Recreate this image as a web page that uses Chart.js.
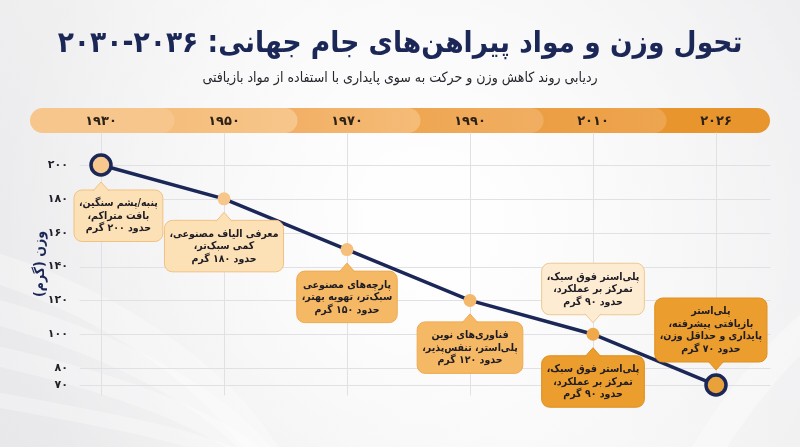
<!DOCTYPE html>
<html lang="fa">
<head>
<meta charset="utf-8">
<title>تحول وزن پیراهن‌های جام جهانی</title>
<script src="https://cdn.jsdelivr.net/npm/chart.js@4.4.1/dist/chart.umd.min.js"></script>
<style>
  html, body { margin: 0; padding: 0; background: #f2f2f3; }
  canvas { display: block; direction: rtl; }
</style>
</head>
<body>
<canvas id="weightChart" width="800" height="447"></canvas>
<script>
// chart data
const years = ['1930', '1950', '1970', '1990', '2010', '2026'];
const weights = [200, 180, 150, 120, 100, 70];
const yTicks = [200, 180, 160, 140, 120, 100, 80, 70];
const notes = [
    'پنبه/پشم سنگین،\nبافت متراکم،\nحدود ۲۰۰ گرم',
    'معرفی الیاف مصنوعی،\nکمی سبک‌تر،\nحدود ۱۸۰ گرم',
    'پارچه‌های مصنوعی\nسبک‌تر، تهویه بهتر،\nحدود ۱۵۰ گرم',
    'فناوری‌های نوین\nپلی‌استر، تنفس‌پذیر،\nحدود ۱۲۰ گرم',
    'پلی‌استر فوق سبک،\nتمرکز بر عملکرد،\nحدود ۹۰ گرم',
    'پلی‌استر فوق سبک،\nتمرکز بر عملکرد،\nحدود ۹۰ گرم',
    'پلی‌استر\nبازیافتی پیشرفته،\nپایداری و حداقل وزن،\nحدود ۷۰ گرم'
];
const noteAt = [0, 1, 2, 3, 4, 4, 5];

const TITLE = 'تحول وزن و مواد پیراهن‌های جام جهانی: ۲۰۳۶-۲۰۳۰';
const SUBTITLE = 'ردیابی روند کاهش وزن و حرکت به سوی پایداری با استفاده از مواد بازیافتی';
const Y_TITLE = 'وزن (گرم)';

// styles
const FONT = "'DejaVu Sans', sans-serif";
const FONT_C = "'DejaVu Sans Condensed', 'DejaVu Sans', sans-serif";
const NAVY = '#1b2857';
const bandColors = ['#f7c68c', '#f5bc78', '#f1ae62', '#eea550', '#eb9d41', '#e8952e'];
const pointFills = ['#f8c98e', '#f7c68a', '#f6bf7c', '#f4b86c', '#f0a94a', '#e9a23a'];
const boxLook = {
    light:   { fill: '#fde1b6', stroke: '#f1c183' },
    pale:    { fill: '#fdebd2', stroke: '#efc890' },
    medium:  { fill: '#f5b864', stroke: '#eeaa50' },
    dark:    { fill: '#eb9d2d', stroke: '#e0901f' }
};
const noteStyle = [
    { side: 'below', dx: 17, w: 86, look: 'light' },
    { side: 'below', dx: 0, w: 98, look: 'light' },
    { side: 'below', dx: 0, w: 99, look: 'medium' },
    { side: 'below', dx: 0, w: 96, look: 'medium' },
    { side: 'above', dx: 0, w: 98, look: 'pale' },
    { side: 'below', dx: 0, w: 98, look: 'dark' },
    { side: 'above', dx: 0, w: 98, look: 'dark' }
];

function faDigits(v) {
    return String(v).replace(/\d/g, d => '۰۱۲۳۴۵۶۷۸۹'[d]);
}

function roundRect(ctx, x, y, w, h, r) {
    ctx.beginPath();
    ctx.moveTo(x + r, y);
    ctx.lineTo(x + w - r, y);
    ctx.arcTo(x + w, y, x + w, y + r, r);
    ctx.lineTo(x + w, y + h - r);
    ctx.arcTo(x + w, y + h, x + w - r, y + h, r);
    ctx.lineTo(x + r, y + h);
    ctx.arcTo(x, y + h, x, y + h - r, r);
    ctx.lineTo(x, y + r);
    ctx.arcTo(x, y, x + r, y, r);
    ctx.closePath();
}

// background, year band and grid
const backdrop = {
    id: 'backdrop',
    beforeDraw(chart) {
        const ctx = chart.ctx;
        const W = chart.width, H = chart.height;
        ctx.save();

        // soft fabric-like background
        const bg = ctx.createLinearGradient(0, H, W, 0);
        bg.addColorStop(0, '#e8e8ea');
        bg.addColorStop(0.5, '#f5f5f6');
        bg.addColorStop(1, '#eeeef0');
        ctx.fillStyle = bg;
        ctx.fillRect(0, 0, W, H);
        const glow = ctx.createRadialGradient(430, 220, 40, 430, 220, 430);
        glow.addColorStop(0, 'rgba(255,255,255,0.95)');
        glow.addColorStop(1, 'rgba(255,255,255,0)');
        ctx.fillStyle = glow;
        ctx.fillRect(0, 0, W, H);
        ctx.lineCap = 'round';
        for (let k = 0; k < 4; k++) {
            ctx.strokeStyle = 'rgba(255,255,255,0.3)';
            ctx.lineWidth = 30 - k * 5;
            ctx.beginPath();
            ctx.moveTo(-30, 260 + k * 45);
            ctx.bezierCurveTo(110, 300 + k * 40, 230, 380 + k * 20, 280, 480);
            ctx.stroke();
        }
        ctx.strokeStyle = 'rgba(255,255,255,0.35)';
        ctx.lineWidth = 30;
        ctx.beginPath();
        ctx.moveTo(690, 480);
        ctx.bezierCurveTo(740, 390, 790, 340, 840, 300);
        ctx.stroke();

        // year band behind x tick labels
        const xs = chart.scales.x;
        const n = years.length;
        const step = xs.getPixelForValue(1) - xs.getPixelForValue(0);
        const bandTop = 108, bandH = 25;
        for (let i = n - 1; i >= 0; i--) {
            const cx = xs.getPixelForValue(i);
            const l = i === 0 ? 30 : cx - step / 2 - 12;
            const r = i === n - 1 ? 770 : cx + step / 2 + 12;
            const g = ctx.createLinearGradient(l, 0, r, 0);
            g.addColorStop(0, bandColors[i]);
            g.addColorStop(1, i === n - 1 ? bandColors[i] : bandColors[Math.max(i - 1, 0)]);
            ctx.fillStyle = g;
            roundRect(ctx, l, bandTop, r - l, bandH, bandH / 2);
            ctx.fill();
        }

        // grid lines
        const ys = chart.scales.y;
        const area = chart.chartArea;
        ctx.strokeStyle = '#e1e1e5';
        ctx.lineWidth = 1;
        yTicks.forEach(v => {
            const y = Math.round(ys.getPixelForValue(v)) + 0.5;
            ctx.beginPath();
            ctx.moveTo(80, y);
            ctx.lineTo(770, y);
            ctx.stroke();
        });
        years.forEach((_, i) => {
            const x = Math.round(xs.getPixelForValue(i)) + 0.5;
            ctx.beginPath();
            ctx.moveTo(x, bandTop + bandH);
            ctx.lineTo(x, area.bottom);
            ctx.stroke();
        });
        ctx.restore();
    }
};

// callout boxes next to the points
const callouts = {
    id: 'callouts',
    afterDatasetsDraw(chart) {
        const ctx = chart.ctx;
        const meta = chart.getDatasetMeta(0);
        const lineH = 12.5, pad = 7, tipH = 8, tipW = 8;
        ctx.save();
        ctx.direction = 'rtl';
        ctx.textAlign = 'center';
        ctx.textBaseline = 'middle';
        notes.forEach((txt, k) => {
            const st = noteStyle[k];
            const look = boxLook[st.look];
            const pt = meta.data[noteAt[k]];
            const r = pt.options.radius;
            const lines = txt.split('\n');
            ctx.font = 'bold 10.5px ' + FONT_C;
            const widest = Math.max(...lines.map(s => ctx.measureText(s).width));
            const h = lines.length * lineH + pad * 2;
            const w = Math.max(st.w, widest + 10);
            let cx = pt.x + st.dx;
            cx = Math.max(cx, 74 + w / 2);
            cx = Math.min(cx, 767 - w / 2);
            let top, baseY, apexY;
            if (st.side === 'below') {
                top = pt.y + r + 15;
                baseY = top + 1;
                apexY = top - tipH;
            } else {
                top = pt.y - r - 13 - h;
                baseY = top + h - 1;
                apexY = top + h + tipH;
            }
            ctx.fillStyle = look.fill;
            ctx.strokeStyle = look.stroke;
            ctx.lineWidth = 1;
            roundRect(ctx, cx - w / 2, top, w, h, 8);
            ctx.fill();
            ctx.stroke();
            // pointer
            ctx.beginPath();
            ctx.moveTo(pt.x - tipW, baseY);
            ctx.lineTo(pt.x, apexY);
            ctx.lineTo(pt.x + tipW, baseY);
            ctx.closePath();
            ctx.fill();
            ctx.beginPath();
            ctx.moveTo(pt.x - tipW, baseY);
            ctx.lineTo(pt.x, apexY);
            ctx.lineTo(pt.x + tipW, baseY);
            ctx.stroke();
            ctx.fillRect(pt.x - tipW + 1, st.side === 'below' ? top + 0.5 : top + h - 2.5, tipW * 2 - 2, 2);

            ctx.fillStyle = '#1d1b24';
            lines.forEach((s, j) => {
                ctx.fillText(s, cx, top + pad + lineH * (j + 0.5) + 0.5);
            });
        });
        ctx.restore();
    }
};

const ctx = document.getElementById('weightChart').getContext('2d');
new Chart(ctx, {
    type: 'line',
    data: {
        labels: years,
        datasets: [{
            data: weights,
            borderColor: NAVY,
            borderWidth: 3.5,
            tension: 0,
            clip: false,
            pointRadius: [10, 6.5, 6.5, 6.5, 6.5, 10],
            pointBorderWidth: [3.5, 0, 0, 0, 0, 3.5],
            pointBorderColor: NAVY,
            pointBackgroundColor: pointFills
        }]
    },
    options: {
        responsive: false,
        animation: false,
        layout: {
            padding: { left: 0, right: 0, top: 0, bottom: 52 }
        },
        plugins: {
            legend: { display: false },
            tooltip: { enabled: false },
            title: {
                display: true,
                text: TITLE,
                color: NAVY,
                font: { family: FONT_C, size: 29.5, weight: 'bold' },
                padding: { top: 27, bottom: 4 }
            },
            subtitle: {
                display: true,
                text: SUBTITLE,
                color: '#26262e',
                font: { family: FONT_C, size: 14 },
                padding: { top: 4, bottom: 6 }
            }
        },
        scales: {
            x: {
                position: 'top',
                offset: false,
                grid: { display: false, drawTicks: false },
                border: { display: false },
                ticks: {
                    color: '#2b2116',
                    font: { family: FONT, size: 13, weight: 'bold' },
                    padding: 4,
                    maxRotation: 0,
                    autoSkip: false,
                    callback: (v, i) => faDigits(years[i])
                },
                afterFit: s => { s.height = 39.8; }
            },
            y: {
                min: 64.1,
                max: 218.9,
                grid: { display: false, drawTicks: false },
                border: { display: false },
                afterBuildTicks: s => { s.ticks = yTicks.map(v => ({ value: v })); },
                ticks: {
                    color: '#1f1f28',
                    font: { family: FONT, size: 11, weight: 'bold' },
                    padding: 33,
                    callback: v => faDigits(v)
                },
                title: {
                    display: true,
                    text: Y_TITLE,
                    color: NAVY,
                    font: { family: FONT_C, size: 14, weight: 'bold' },
                    padding: { top: 31.6, bottom: 0 }
                },
                afterFit: s => { s.width = 101; }
            },
            // empty right-hand axis only reserves the margin right of the plot
            yRight: {
                position: 'right',
                grid: { display: false, drawTicks: false },
                border: { display: false },
                ticks: { display: false },
                afterFit: s => { s.width = 84; }
            }
        }
    },
    plugins: [backdrop, callouts]
});
</script>
</body>
</html>
